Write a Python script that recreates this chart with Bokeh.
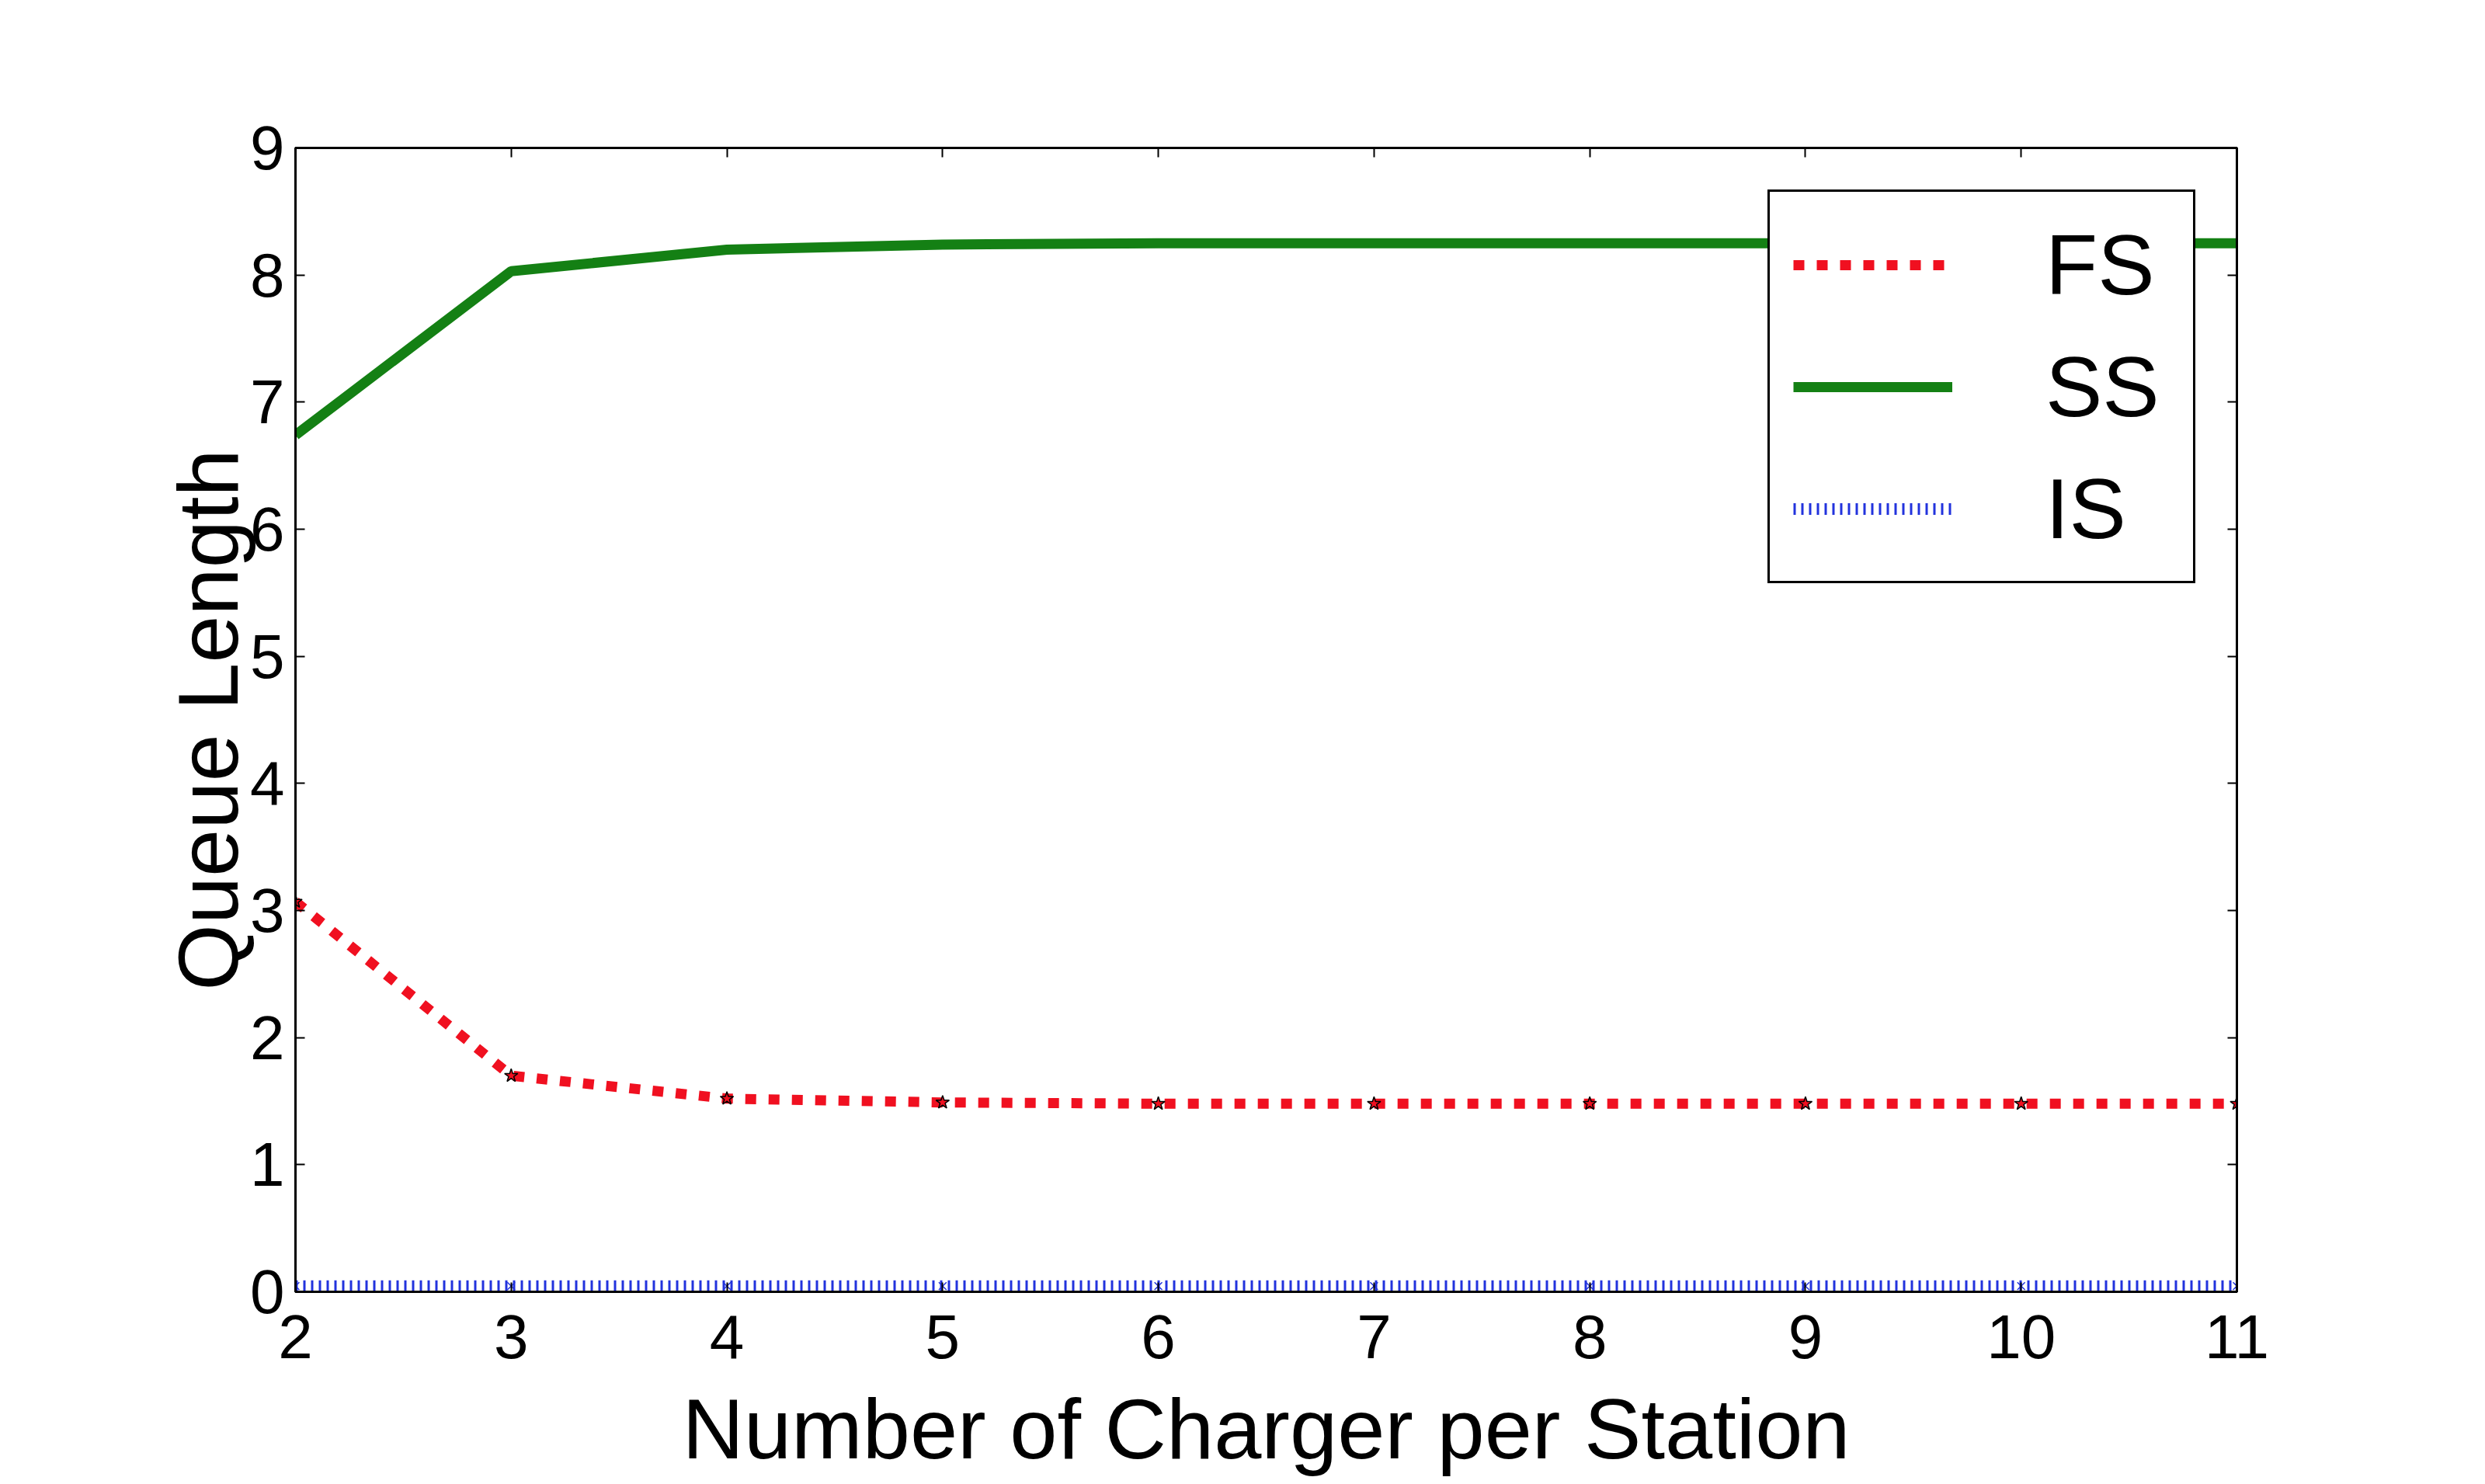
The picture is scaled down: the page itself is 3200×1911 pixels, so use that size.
from bokeh.plotting import figure
from bokeh.models import LinearAxis, Legend, LegendItem, Range1d, FixedTicker
from bokeh.embed import file_html
from bokeh.resources import INLINE

chargers = [2, 3, 4, 5, 6, 7, 8, 9, 10, 11]
fs = [3.07, 1.70, 1.52, 1.49, 1.48, 1.48, 1.48, 1.48, 1.48, 1.48]
ss = [6.74, 8.03, 8.20, 8.24, 8.25, 8.25, 8.25, 8.25, 8.25, 8.25]
is_ = [0.045, 0.045, 0.045, 0.045, 0.045, 0.045, 0.045, 0.045, 0.045, 0.045]
x_ticks = [2, 3, 4, 5, 6, 7, 8, 9, 10, 11]
y_ticks = [0, 1, 2, 3, 4, 5, 6, 7, 8, 9]

FONT = "Liberation Sans"
RED = "#f01020"
GREEN = "#148014"
BLUE = "#2233dd"

p = figure(width=3184, height=1911, output_backend="svg", toolbar_location=None,
           x_range=Range1d(2, 11), y_range=Range1d(0, 9),
           min_border_left=380, min_border_right=304, min_border_top=190,
           min_border_bottom=248)
p.xgrid.visible = False
p.ygrid.visible = False
p.outline_line_color = "black"
p.outline_line_width = 3
p.outline_line_alpha = 1.0
p.background_fill_color = "white"
p.border_fill_color = "white"

for ax in (p.xaxis[0], p.yaxis[0]):
    ax.ticker = FixedTicker(ticks=x_ticks if ax is p.xaxis[0] else y_ticks)
    ax.major_tick_in = 12
    ax.major_tick_out = 0
    ax.minor_tick_line_color = None
    ax.major_tick_line_width = 2
    ax.axis_line_width = 3
    ax.major_label_text_font = FONT
    ax.major_label_text_font_size = "80px"
    ax.major_label_text_color = "black"
    ax.axis_label_text_font = FONT
    ax.axis_label_text_font_size = "110px"
    ax.axis_label_text_font_style = "normal"
    ax.axis_label_text_color = "black"

p.xaxis.axis_label = "Number of Charger per Station"
p.yaxis.axis_label = "Queue Length"
p.xaxis.major_label_standoff = 30
p.xaxis.axis_label_standoff = 26
p.yaxis.major_label_standoff = 14
p.yaxis.axis_label_standoff = -10

for loc, ticks in (("above", x_ticks), ("right", y_ticks)):
    a = LinearAxis(ticker=FixedTicker(ticks=ticks), major_tick_in=12, major_tick_out=0,
                   minor_tick_line_color=None, major_tick_line_width=2, axis_line_width=3,
                   major_label_text_color=None, major_label_text_font_size="1px",
                   major_label_standoff=0)
    p.add_layout(a, loc)

r_is = p.line(chargers, is_, line_color=BLUE, line_width=15, line_dash="3 7")
p.scatter(chargers, is_, marker="x", size=14, line_color=BLUE, line_width=1.5)
r_fs = p.line(chargers, fs, line_color=RED, line_width=13, line_dash="14 16")
p.scatter(chargers, fs, marker="star", size=18, fill_color=RED, line_color="black", line_width=1.5)
r_ss = p.line(chargers, ss, line_color=GREEN, line_width=13)

legend = Legend(items=[LegendItem(label="FS", renderers=[r_fs]),
                       LegendItem(label="SS", renderers=[r_ss]),
                       LegendItem(label="IS", renderers=[r_is])],
                location=(1896, 912))
legend.label_text_font = FONT
legend.label_text_font_size = "110px"
legend.label_text_color = "black"
legend.glyph_width = 205
legend.glyph_height = 100
legend.label_standoff = 120
legend.label_width = 160
legend.spacing = 30
legend.padding = 30
legend.border_line_color = "black"
legend.border_line_alpha = 1.0
legend.border_line_width = 3
legend.background_fill_color = "white"
legend.background_fill_alpha = 1.0
p.add_layout(legend, "center")

open("out.html", "w").write(file_html(p, INLINE))
